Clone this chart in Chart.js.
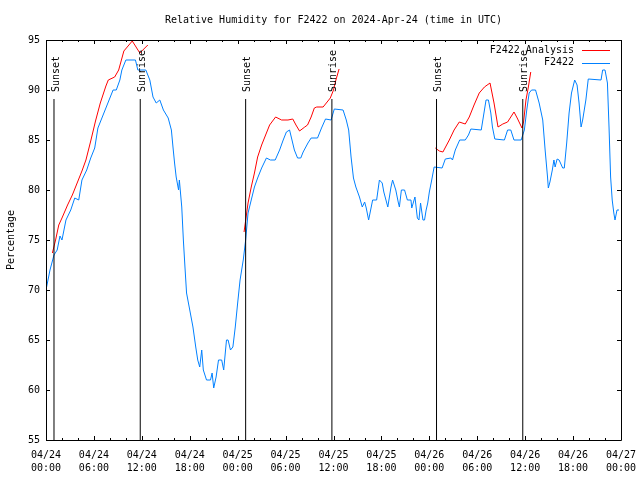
<!DOCTYPE html>
<html>
<head>
<meta charset="utf-8">
<script src="https://cdn.jsdelivr.net/npm/chart.js@4.4.1/dist/chart.umd.min.js"></script>
<style>
  html, body { margin: 0; padding: 0; background: #fff; }
  #wrap { width: 640px; height: 480px; }
</style>
</head>
<body>
<div id="wrap"><canvas id="rhChart" width="640" height="480"></canvas></div>
<script>
// hours since 2024-04-24 00:00 UTC
const obsHours = [0, 0.5, 1.0, 1.4, 1.75, 2.0, 2.5, 3.1, 3.6, 4.1, 4.5, 5.1, 5.6, 6.1, 6.5, 7.0, 7.5, 7.9, 8.4, 8.8,
  9.25, 9.5, 10, 11.2, 11.5, 12.5, 13, 13.4, 13.8, 14.25, 14.7, 15.3, 15.7, 15.9, 16.1, 16.3, 16.6, 16.7, 17, 17.2,
  17.4, 17.6, 18, 18.4, 18.75, 19, 19.25, 19.5, 19.7, 20.1, 20.6, 20.8, 21, 21.3, 21.6, 22, 22.25, 22.6, 22.8, 23.1,
  23.4, 23.7, 24, 24.3, 24.7, 25, 25.3, 25.7, 26.1, 26.5, 27, 27.6, 28.1, 28.7, 29.25, 29.7, 30.1, 30.5, 30.8, 31.1,
  31.5, 31.9, 32.2, 32.8, 33.2, 34, 34.5, 35, 35.7, 36.1, 37.2, 37.6, 37.9, 38.2, 38.5, 38.8, 39.25, 39.6, 39.9, 40.1,
  40.4, 40.7, 40.9, 41.4, 41.75, 42.1, 42.3, 42.8, 43.2, 43.4, 43.8, 44.1, 44.25, 44.5, 44.9, 45.25, 45.7, 45.8, 46.2, 46.5,
  46.7, 46.9, 47.2, 47.4, 47.6, 47.8, 48.0, 48.3, 48.6, 49.6, 50, 50.7, 50.9, 51.25, 51.8, 52.5, 52.9, 53.2, 54.5, 54.9,
  55.1, 55.4, 55.7, 55.9, 56.2, 57.4, 57.8, 58.2, 58.6, 59.5, 59.9, 60.2, 60.5, 60.8, 61.3, 61.75, 62.2, 62.5, 62.8, 62.9,
  63.1, 63.4, 63.6, 63.75, 64, 64.25, 64.7, 64.9, 65.2, 65.5, 65.8, 66.2, 66.5, 66.75, 67, 67.2, 67.6, 67.9, 69.5, 69.7,
  70, 70.3, 70.5, 70.7, 70.9, 71.1, 71.25, 71.5, 71.75];
const obsValues = [70, 72, 73.5, 74, 75.4, 75, 77, 78, 79.2, 79, 81, 82, 83.2, 84.2, 86.2, 87.2, 88.2, 89, 90, 90,
  91, 92, 93, 93, 92, 92, 91, 89.3, 88.7, 89, 88, 87.2, 86, 84.3, 82.7, 81.3, 80, 81, 78.3, 75,
  72.3, 69.7, 68, 66.3, 64.3, 63, 62.3, 64, 62, 61, 61, 61.7, 60.2, 61.3, 63, 63, 62, 65, 65, 64,
  64.3, 66.3, 68.7, 71, 73, 75, 77.7, 79, 80.3, 81.2, 82.2, 83.2, 83, 83, 84, 85, 85.8, 86, 85, 84,
  83.2, 83.2, 83.8, 84.7, 85.2, 85.2, 86.2, 87.1, 87, 88.1, 88, 87, 86, 83.3, 81.2, 80.3, 79.3, 78.3, 78.8, 78.2,
  77, 78.2, 79, 79, 81, 80.7, 79.8, 78.3, 80.3, 81, 80, 78.8, 78.3, 80, 80, 79, 79, 78.2, 79.3, 77.2,
  77, 78.7, 77, 77, 78, 78.7, 79.8, 81, 82.3, 82.2, 83.1, 83.2, 83, 84, 85, 85, 85.5, 86.1, 86, 88,
  89, 89, 87.7, 86.3, 85.1, 85, 86, 86, 85, 85, 86, 88, 89.7, 90, 90, 88.7, 87, 84, 81.3, 80.2,
  80.8, 82, 83, 82.3, 83.1, 83, 82.2, 82.2, 84.7, 87.7, 89.7, 91, 90.5, 88.7, 86.3, 87, 89, 91.1, 91, 92,
  92, 90.7, 86.3, 81.3, 79, 77.7, 77, 78, 78];

// analysis runs, null marks the gap between runs
const anaHours = [0.8, 1.2, 1.6, 2.0, 2.7, 3.3, 3.9, 4.5, 5.0, 5.6, 6.2, 6.8, 7.5, 7.8, 8.6, 9.1, 9.75, 10.8, 11.75, 12.75,
  18,
  24.8, 25.3, 25.7, 26.1, 26.5, 27, 27.5, 28, 28.75, 29.5, 30.3, 30.9, 31.3, 31.75, 32.4, 32.75, 33.2, 33.6, 33.9, 34.7,
  35.2, 35.6, 36, 36.3, 36.7,
  42,
  48.75, 49.25, 49.7, 50.1, 50.5, 51.1, 51.75, 52.5, 53, 53.6, 54.25, 54.9, 55.6, 56.1, 56.6, 57.2, 57.8, 58.6, 59, 59.6,
  59.8, 60.1, 60.4, 60.7];
const anaValues = [73.7, 75, 76.5, 77.2, 78.5, 79.5, 80.7, 81.9, 83, 84.9, 86.9, 88.7, 90.4, 91, 91.3, 92, 93.9, 94.9, 93.7, 94.5,
  null,
  75.8, 78.7, 80.3, 81.7, 83.3, 84.5, 85.5, 86.5, 87.3, 87, 87, 87.1, 86.5, 85.9, 86.3, 86.5, 87.3, 88.2, 88.3, 88.3,
  88.8, 89.2, 90, 91, 92.1,
  null,
  84.2, 83.9, 83.8, 84.4, 85, 86, 86.8, 86.6, 87.3, 88.5, 89.7, 90.3, 90.7, 88.7, 86.3, 86.6, 86.8, 87.8, 87.2, 86.2,
  86.8, 89, 90.3, 91.8];

const eventHours = [1.0, 11.8, 25.0, 35.8, 48.9, 59.7];
const eventNames = ['Sunset', 'Sunrise', 'Sunset', 'Sunrise', 'Sunset', 'Sunrise'];
const eventLineTop = 89.1;
const eventLabelAt = 89.8;

const xTickLabels = [
  ['04/24', '00:00'], ['04/24', '06:00'], ['04/24', '12:00'], ['04/24', '18:00'],
  ['04/25', '00:00'], ['04/25', '06:00'], ['04/25', '12:00'], ['04/25', '18:00'],
  ['04/26', '00:00'], ['04/26', '06:00'], ['04/26', '12:00'], ['04/26', '18:00'],
  ['04/27', '00:00']
];
const yMin = 55, yMax = 95;
const chartTitle = 'Relative Humidity for F2422 on 2024-Apr-24 (time in UTC)';

const FONT = '"DejaVu Sans Mono", "Liberation Mono", monospace';

function toPoints(xs, ys) {
  return xs.map((x, i) => ({ x: x, y: ys[i] }));
}

const eventPoints = [];
eventHours.forEach(h => {
  eventPoints.push({ x: h, y: yMin }, { x: h, y: eventLineTop }, { x: h, y: null });
});

// title over the plot, frame, inward ticks on all four sides, event labels, legend
const gnuplotDecor = {
  id: 'gnuplotDecor',
  afterDatasetsDraw(chart) {
    const ctx = chart.ctx;
    const xs = chart.scales.x, ys = chart.scales.y;
    const a = chart.chartArea;
    ctx.save();
    ctx.fillStyle = '#000';
    ctx.font = '10px ' + FONT;
    ctx.textAlign = 'center';
    ctx.textBaseline = 'middle';
    ctx.fillText(chartTitle, (a.left + a.right) / 2, 20);

    ctx.strokeStyle = '#000';
    ctx.lineWidth = 1;
    ctx.beginPath();
    ctx.rect(Math.round(a.left) + 0.5, Math.round(a.top) + 0.5,
      Math.round(a.right - a.left), Math.round(a.bottom - a.top));
    ctx.stroke();

    ctx.beginPath();
    for (let h = 0; h <= 72; h += 2) {
      const px = Math.round(xs.getPixelForValue(h)) + 0.5;
      const len = h % 6 === 0 ? 4 : 2;
      ctx.moveTo(px, a.bottom); ctx.lineTo(px, a.bottom - len);
      ctx.moveTo(px, a.top); ctx.lineTo(px, a.top + len);
    }
    for (let v = yMin; v <= yMax; v += 5) {
      const py = Math.round(ys.getPixelForValue(v)) + 0.5;
      ctx.moveTo(a.left, py); ctx.lineTo(a.left + 4, py);
      ctx.moveTo(a.right, py); ctx.lineTo(a.right - 4, py);
    }
    ctx.stroke();

    eventHours.forEach((h, i) => {
      const px = xs.getPixelForValue(h);
      const py = ys.getPixelForValue(eventLabelAt);
      ctx.save();
      ctx.translate(px + 2, py);
      ctx.rotate(-Math.PI / 2);
      ctx.textAlign = 'left';
      ctx.textBaseline = 'middle';
      ctx.fillText(eventNames[i], 0, 0);
      ctx.restore();
    });

    const items = [chart.data.datasets[1], chart.data.datasets[2]];
    items.forEach((ds, i) => {
      const y = 50 + i * 12.5;
      ctx.fillStyle = '#000';
      ctx.textAlign = 'right';
      ctx.textBaseline = 'middle';
      ctx.fillText(ds.label, 574, y);
      ctx.strokeStyle = ds.borderColor;
      ctx.beginPath();
      ctx.moveTo(582, Math.round(y) + 0.5);
      ctx.lineTo(610, Math.round(y) + 0.5);
      ctx.stroke();
    });
    ctx.restore();
  }
};

new Chart(document.getElementById('rhChart').getContext('2d'), {
  type: 'line',
  data: {
    datasets: [
      {
        label: 'events',
        data: eventPoints,
        borderColor: '#000',
        borderWidth: 1,
        pointRadius: 0,
        spanGaps: false
      },
      {
        label: 'F2422 Analysis',
        data: toPoints(anaHours, anaValues),
        borderColor: '#ff0000',
        borderWidth: 1,
        pointRadius: 0,
        spanGaps: false
      },
      {
        label: 'F2422',
        data: toPoints(obsHours, obsValues),
        borderColor: '#0080ff',
        borderWidth: 1,
        pointRadius: 0
      }
    ]
  },
  options: {
    responsive: false,
    animation: false,
    events: [],
    layout: { padding: { left: 0, right: 19, top: 40, bottom: 0 } },
    elements: { line: { tension: 0 } },
    plugins: {
      legend: { display: false },
      tooltip: { enabled: false },
      title: { display: false }
    },
    scales: {
      x: {
        type: 'linear',
        min: 0,
        max: 72,
        grid: { display: false, drawTicks: false },
        border: { display: false },
        afterFit: s => { s.height = 40; s.paddingLeft = 0; s.paddingRight = 0; },
        ticks: {
          stepSize: 6,
          padding: 9,
          maxRotation: 0,
          autoSkip: false,
          color: '#000',
          font: { family: FONT, size: 10, lineHeight: 1.27 },
          callback: v => xTickLabels[Math.round(v / 6)]
        }
      },
      y: {
        min: yMin,
        max: yMax,
        grid: { display: false, drawTicks: false },
        border: { display: false },
        afterFit: s => { s.width = 46; s.paddingTop = 0; s.paddingBottom = 0; },
        ticks: {
          stepSize: 5,
          padding: 6,
          color: '#000',
          font: { family: FONT, size: 10 }
        },
        title: {
          display: true,
          text: 'Percentage',
          color: '#000',
          font: { family: FONT, size: 10 },
          padding: { top: 5, bottom: 0 }
        }
      }
    }
  },
  plugins: [gnuplotDecor]
});
</script>
</body>
</html>
